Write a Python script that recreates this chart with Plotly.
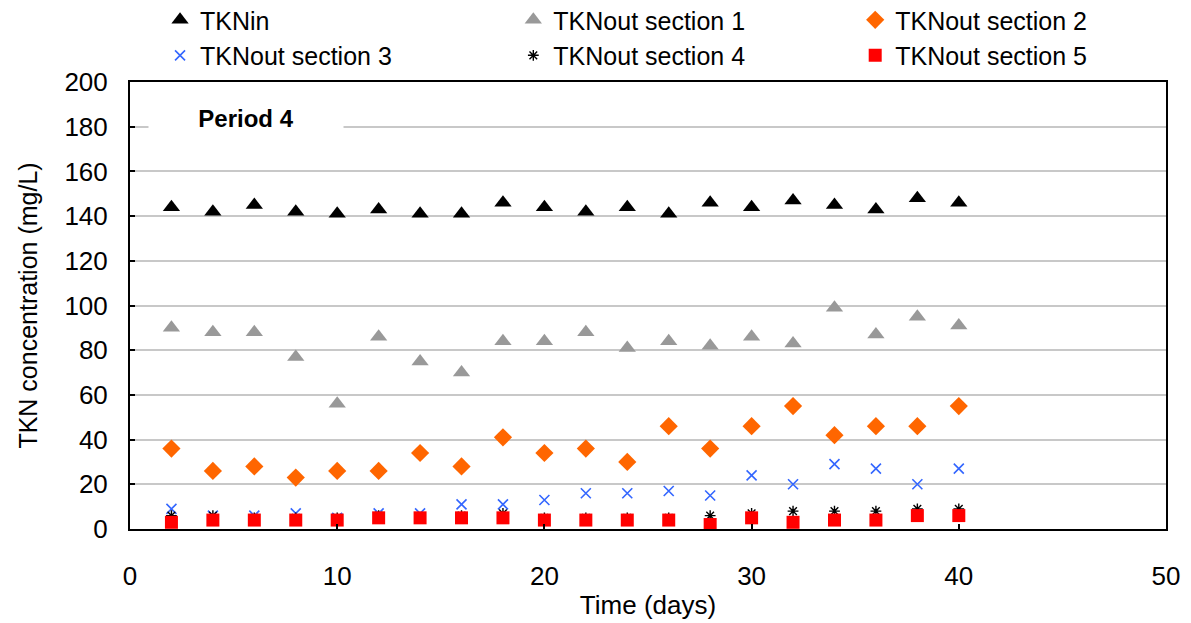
import plotly.graph_objects as go

days = [2, 4, 6, 8, 10, 12, 14, 16, 18, 20, 22, 24, 26, 28, 30, 32, 34, 36, 38, 40]
tkn_in = [144, 142, 145, 142, 141, 143, 141, 141, 146, 144, 142, 144, 141, 146, 144, 147, 145, 143, 148, 146]
sec1 = [90, 88, 88, 77, 56, 86, 75, 70, 84, 84, 88, 81, 84, 82, 86, 83, 99, 87, 95, 91]
sec2 = [36, 26, 28, 23, 26, 26, 34, 28, 41, 34, 36, 30, 46, 36, 46, 55, 42, 46, 46, 55]
sec3 = [9, 6, 6, 7, 5, 7, 7, 11, 11, 13, 16, 16, 17, 15, 24, 20, 29, 27, 20, 27]
sec4 = [6, 6, 5, 5, 5, 6, 5, 6, 7, 5, 5, 5, 5, 6, 7, 8, 8, 8, 9, 9]
sec5 = [3, 4, 4, 4, 4, 5, 5, 5, 5, 4, 4, 4, 4, 2, 5, 3, 4, 4, 6, 6]

names = ["TKNin", "TKNout section 1", "TKNout section 2",
         "TKNout section 3", "TKNout section 4", "TKNout section 5"]

FONT = "Liberation Sans, Arial, sans-serif"
FS = 26

fig = go.Figure()
fig.add_trace(go.Scatter(x=days, y=tkn_in, mode="markers", name=names[0], legend="legend",
                         marker=dict(symbol="triangle-up", size=15, color="black")))
fig.add_trace(go.Scatter(x=days, y=sec1, mode="markers", name=names[1], legend="legend2",
                         marker=dict(symbol="triangle-up", size=15, color="#999999")))
fig.add_trace(go.Scatter(x=days, y=sec2, mode="markers", name=names[2], legend="legend3",
                         marker=dict(symbol="diamond", size=14, color="#FF6600")))
fig.add_trace(go.Scatter(x=days, y=sec3, mode="markers", name=names[3], legend="legend",
                         marker=dict(symbol="x-thin-open", size=10, color="#3366FF",
                                     line=dict(width=1.6, color="#3366FF"))))
fig.add_trace(go.Scatter(x=days, y=sec4, mode="markers", name=names[4], legend="legend2",
                         marker=dict(symbol="asterisk-open", size=9, color="black",
                                     line=dict(width=1.4, color="black"))))
fig.add_trace(go.Scatter(x=days, y=sec5, mode="markers", name=names[5], legend="legend3",
                         marker=dict(symbol="square", size=13, color="#FF0000")))

fig.add_annotation(x=5.6, y=184, xref="x", yref="y", text="<b>Period 4</b>",
                   showarrow=False, font=dict(family=FONT, size=24, color="black"),
                   bgcolor="white", width=192, height=32, align="center")

leg_common = dict(orientation="v", y=1.19, xanchor="left", yanchor="top",
                  font=dict(family=FONT, size=25, color="black"),
                  bgcolor="rgba(0,0,0,0)", tracegroupgap=0, itemwidth=30)

fig.update_layout(
    width=1191, height=623,
    margin=dict(l=122, r=33, t=74, b=102, autoexpand=False),
    paper_bgcolor="white", plot_bgcolor="white",
    font=dict(family=FONT, size=FS, color="black"),
    showlegend=True,
    legend=dict(x=0.029, **leg_common),
    legend2=dict(x=0.370, **leg_common),
    legend3=dict(x=0.700, **leg_common),
    xaxis=dict(range=[0, 50], tick0=0, dtick=10, showgrid=False,
               showline=True, linecolor="black", linewidth=2, mirror=True,
               ticks="inside", ticklen=5, tickcolor="black", tickwidth=1.5,
               ticklabelstandoff=23, zeroline=False,
               title=dict(text="Time (days)", font=dict(family=FONT, size=FS), standoff=6),
               tickfont=dict(family=FONT, size=FS)),
    yaxis=dict(range=[0, 200], tick0=0, dtick=20, showgrid=True,
               gridcolor="#C8C8C8", gridwidth=1.5,
               showline=True, linecolor="black", linewidth=2, mirror=True,
               ticks="inside", ticklen=5, tickcolor="black", tickwidth=1.5,
               ticklabelstandoff=15, zeroline=False,
               title=dict(text="TKN concentration (mg/L)", font=dict(family=FONT, size=25), standoff=20),
               tickfont=dict(family=FONT, size=FS)),
)

fig.write_html("out.html")
